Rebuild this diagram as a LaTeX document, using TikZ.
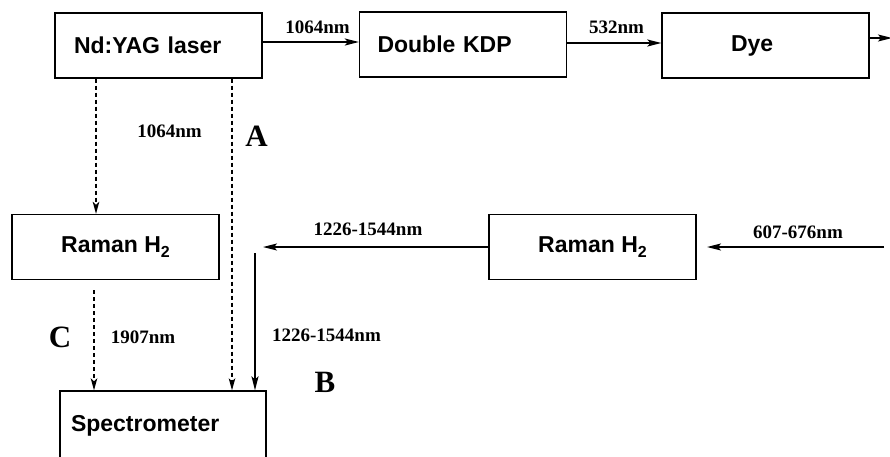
\documentclass[tikz,border=0pt]{standalone}
\usepackage{fontspec}
\setmainfont{Liberation Serif}
\newfontfamily\boxfont{Liberation Sans}
\usetikzlibrary{arrows.meta}
\begin{document}
\begin{tikzpicture}[x=1pt,y=-1pt,
  box/.style={draw, line width=1.3pt, minimum height=65pt, align=left,
    font=\boxfont\bfseries\fontsize{23}{25}\selectfont},
  arr/.style={line width=1.7pt, -{Stealth[length=14pt,width=7pt,inset=3pt]}},
  dasharr/.style={line width=1.5pt, dash pattern=on 4pt off 3pt, -{Stealth[length=12pt,width=6.5pt,inset=3pt]}},
  lab/.style={inner sep=0pt, font=\bfseries\fontsize{19}{21}\selectfont},
  big/.style={inner sep=0pt, font=\bfseries\fontsize{31}{33}\selectfont}]
\useasboundingbox (0,0) rectangle (890,456);
\newcommand{\subtwo}{\raisebox{-5pt}{\fontsize{16}{16}\selectfont 2}}
% boxes
\node[box, inner xsep=19pt, text width=169pt] (yag) at (158.5,45.5) {Nd:YAG laser};
\node[box, inner xsep=18pt, text width=171pt] (kdp) at (463,44.5) {Double KDP};
\node[box, inner xsep=69pt, text width=69pt] (dye) at (765.5,45.5) {Dye};
\node[box, minimum width=207pt, align=center] (ramanL) at (115.5,247) {Raman H\subtwo};
\node[box, minimum width=207pt, align=center] (ramanR) at (592.5,247) {Raman H\subtwo};
\node[box, inner xsep=11pt, text width=184pt, minimum height=70pt] (spec) at (163,426) {Spectrometer};
% helper coordinates
\coordinate (ya) at (0,42);
\coordinate (yb) at (0,43);
\coordinate (xa) at (96,0);
\coordinate (xb) at (232,0);
\coordinate (cstart) at (94,290);
\coordinate (bend) at (263,247);
\coordinate (bstart) at (255,253);
\coordinate (inR) at (884,247);
\coordinate (inRend) at (707,247);
\coordinate (outR) at (892,38);
% connectors
\draw[arr] (yag.east |- ya) -- (kdp.west |- ya);
\draw[arr] (kdp.east |- yb) -- (dye.west |- yb);
\draw[arr] (dye.east |- outR) -- (outR);
\draw[dasharr] (yag.south -| xa) -- (ramanL.north -| xa);
\draw[dasharr] (yag.south -| xb) -- (spec.north -| xb);
\draw[dasharr] (cstart) -- (spec.north -| cstart);
\draw[arr] (ramanR.west) -- (bend);
\draw[arr] (bstart) -- (spec.north -| bstart);
\draw[arr] (inR) -- (inRend);
% labels
\node[lab] (l1) at (317.5,27) {1064nm};
\node[lab] (l2) at (616.5,27.5) {532nm};
\node[lab] (l3) at (169.5,131) {1064nm};
\node[big] (lA) at (256.5,136.5) {A};
\node[lab] (l4) at (368,229) {1226-1544nm};
\node[lab] (l5) at (798,232) {607-676nm};
\node[big] (lC) at (60,337.5) {C};
\node[lab] (l6) at (143,337.5) {1907nm};
\node[lab] (l7) at (326.5,335) {1226-1544nm};
\node[big] (lB) at (325,382.5) {B};
\end{tikzpicture}
\end{document}
